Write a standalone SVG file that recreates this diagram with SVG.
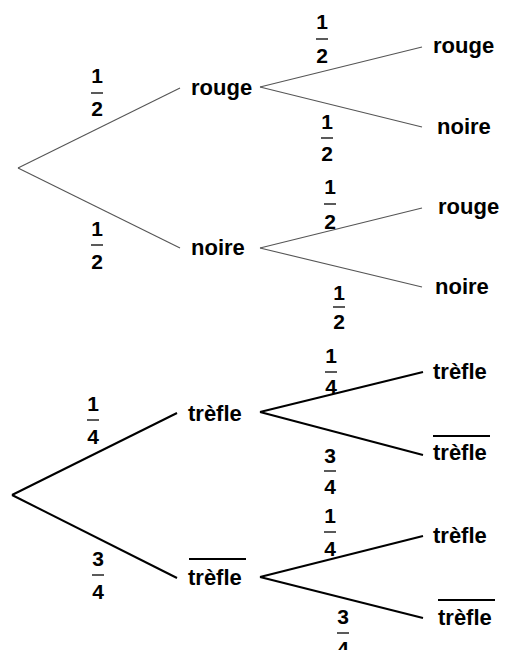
<svg xmlns="http://www.w3.org/2000/svg" width="505" height="650" viewBox="0 0 505 650">
  <style>
    .lbl { font-family: "Liberation Sans", Arial, sans-serif; font-weight: bold; font-size: 22px; fill: #000; }
    .num { font-family: "Liberation Sans", Arial, sans-serif; font-weight: bold; font-size: 21px; fill: #000; text-anchor: middle; }
    .bar { stroke: #000; stroke-width: 1.3; }
    .thin { stroke: #555; stroke-width: 1.1; fill: none; }
    .thick { stroke: #000; stroke-width: 2; fill: none; }
    .ovl { stroke: #000; stroke-width: 2; }
  </style>
  <rect width="505" height="650" fill="#fff"/>

  <!-- branches -->
  <g id="connectors">
    <!-- colour tree -->
    <line class="thin" x1="18" y1="168" x2="180" y2="88"/>
    <line class="thin" x1="18" y1="168" x2="180" y2="248"/>
    <line class="thin" x1="260" y1="87" x2="422" y2="47"/>
    <line class="thin" x1="260" y1="87" x2="422" y2="127"/>
    <line class="thin" x1="260" y1="248" x2="422" y2="208"/>
    <line class="thin" x1="260" y1="248" x2="422" y2="287"/>
    <!-- suit tree -->
    <line class="thick" x1="12" y1="495" x2="177" y2="413"/>
    <line class="thick" x1="12" y1="495" x2="177" y2="578"/>
    <line class="thick" x1="260" y1="412" x2="423" y2="372"/>
    <line class="thick" x1="260" y1="412" x2="423" y2="455"/>
    <line class="thick" x1="260" y1="577" x2="423" y2="536"/>
    <line class="thick" x1="260" y1="577" x2="423" y2="618"/>
  </g>

  <!-- probabilities -->
  <g id="probabilities">
    <g><text class="num" x="97" y="83">1</text><line class="bar" x1="91" y1="93" x2="103" y2="93"/><text class="num" x="97" y="116">2</text></g>
    <g><text class="num" x="97" y="236">1</text><line class="bar" x1="91" y1="245" x2="103" y2="245"/><text class="num" x="97" y="269">2</text></g>
    <g><text class="num" x="322" y="29">1</text><line class="bar" x1="316" y1="39" x2="328" y2="39"/><text class="num" x="322" y="63">2</text></g>
    <g><text class="num" x="327" y="129">1</text><line class="bar" x1="321" y1="138" x2="333" y2="138"/><text class="num" x="327" y="161">2</text></g>
    <g><text class="num" x="330" y="194">1</text><line class="bar" x1="324" y1="204" x2="336" y2="204"/><text class="num" x="330" y="229">2</text></g>
    <g><text class="num" x="339" y="300">1</text><line class="bar" x1="333" y1="307" x2="345" y2="307"/><text class="num" x="339" y="329">2</text></g>

    <g><text class="num" x="93" y="411">1</text><line class="bar" x1="87" y1="420" x2="99" y2="420"/><text class="num" x="93" y="444">4</text></g>
    <g><text class="num" x="98" y="566">3</text><line class="bar" x1="92" y1="575" x2="104" y2="575"/><text class="num" x="98" y="599">4</text></g>
    <g><text class="num" x="331" y="363">1</text><line class="bar" x1="325" y1="372" x2="337" y2="372"/><text class="num" x="331" y="394">4</text></g>
    <g><text class="num" x="330" y="463">3</text><line class="bar" x1="324" y1="471" x2="336" y2="471"/><text class="num" x="330" y="494">4</text></g>
    <g><text class="num" x="330" y="523">1</text><line class="bar" x1="324" y1="532" x2="336" y2="532"/><text class="num" x="330" y="556">4</text></g>
    <g><text class="num" x="343" y="624">3</text><line class="bar" x1="337" y1="633" x2="349" y2="633"/><text class="num" x="343" y="656">4</text></g>
  </g>

  <!-- outcomes: colour tree -->
  <g id="n-rouge"><text class="lbl" x="191" y="95">rouge</text></g>
  <g id="n-noire"><text class="lbl" x="191" y="255">noire</text></g>
  <g id="n-rouge-rouge"><text class="lbl" x="433" y="53">rouge</text></g>
  <g id="n-rouge-noire"><text class="lbl" x="437" y="134">noire</text></g>
  <g id="n-noire-rouge"><text class="lbl" x="438" y="214">rouge</text></g>
  <g id="n-noire-noire"><text class="lbl" x="435" y="294">noire</text></g>

  <!-- outcomes: suit tree -->
  <g id="n-trefle"><text class="lbl" x="188" y="421">trèfle</text></g>
  <g id="n-non-trefle"><line class="ovl" x1="189" y1="559" x2="246" y2="559"/><text class="lbl" x="188" y="585">trèfle</text></g>
  <g id="n-trefle-trefle"><text class="lbl" x="433" y="379">trèfle</text></g>
  <g id="n-trefle-non"><line class="ovl" x1="433" y1="436" x2="490" y2="436"/><text class="lbl" x="433" y="460">trèfle</text></g>
  <g id="n-non-trefle-trefle"><text class="lbl" x="433" y="543">trèfle</text></g>
  <g id="n-non-trefle-non"><line class="ovl" x1="438" y1="600" x2="495" y2="600"/><text class="lbl" x="438" y="625">trèfle</text></g>
</svg>
